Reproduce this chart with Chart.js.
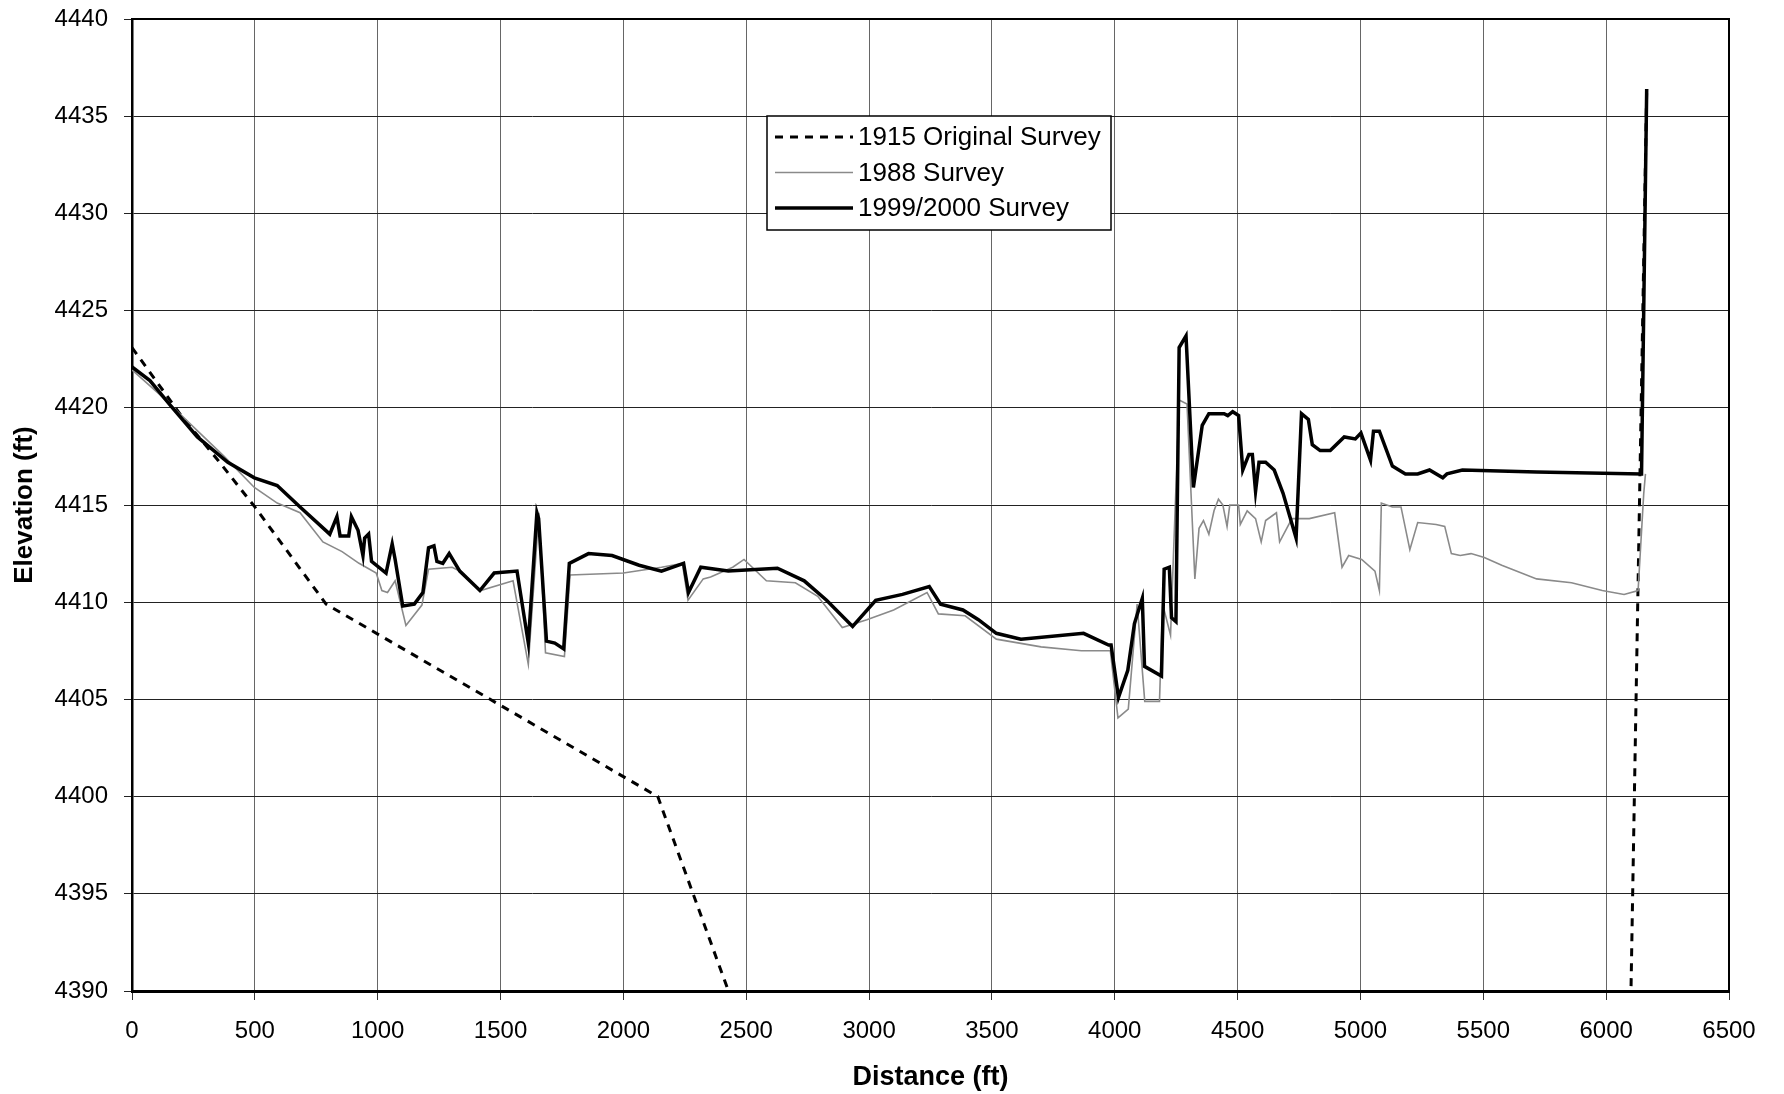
<!DOCTYPE html>
<html>
<head>
<meta charset="utf-8">
<script src="https://cdn.jsdelivr.net/npm/chart.js@4.4.1/dist/chart.umd.min.js"></script>
<style>
  html, body { margin: 0; padding: 0; background: #fff; }
  #wrap { width: 1784px; height: 1094px; }
</style>
</head>
<body>
<div id="wrap"><canvas id="chart-profile" width="1784" height="1094"></canvas></div>
<script>
var seriesNames = ["1915 Original Survey", "1988 Survey", "1999/2000 Survey"];

// 1915 original survey (the middle stretch runs below the plotted range)
var dist1915 = [0, 200, 350, 500, 790, 2140, 2600, 6090, 6165];
var elev1915 = [4423.1, 4419.6, 4417.3, 4414.9, 4409.9, 4400.0, 4384.0, 4382.0, 4436.4];

// 1988 survey
var dist1988 = [0, 111, 235, 375, 498, 591, 684, 777, 855, 924, 994, 1017, 1040, 1071, 1115, 1180,
  1207, 1303, 1334, 1419, 1551, 1613, 1656, 1683, 1760, 1783, 2000, 2155, 2240, 2263, 2325, 2355,
  2445, 2491, 2582, 2700, 2791, 2891, 2991, 3100, 3236, 3282, 3391, 3518, 3700, 3864, 3982, 4013,
  4055, 4091, 4122, 4182, 4195, 4227, 4262, 4294, 4326, 4343, 4361, 4383, 4404, 4422, 4440, 4457,
  4468, 4504, 4511, 4539, 4573, 4596, 4614, 4658, 4671, 4721, 4792, 4895, 4925, 4952, 5005, 5059,
  5077, 5085, 5130, 5165, 5201, 5233, 5308, 5343, 5370, 5406, 5450, 5504, 5575, 5717, 5859, 5984,
  6073, 6130, 6153, 6160];
var elev1988 = [4421.95, 4420.7, 4419.2, 4417.5, 4415.9, 4415.1, 4414.6, 4413.1, 4412.6, 4412.0,
  4411.5, 4410.6, 4410.5, 4411.1, 4408.8, 4409.85, 4411.7, 4411.8, 4411.6, 4410.6, 4411.1, 4406.8,
  4414.6, 4407.4, 4407.2, 4411.4, 4411.5, 4411.8, 4412.0, 4410.1, 4411.2, 4411.3, 4411.8, 4412.2,
  4411.1, 4411.0, 4410.3, 4408.7, 4409.1, 4409.6, 4410.5, 4409.4, 4409.3, 4408.1, 4407.7, 4407.5,
  4407.5, 4404.05, 4404.5, 4409.9, 4404.9, 4404.9, 4409.9, 4408.3, 4420.4, 4420.2, 4411.2, 4413.8,
  4414.2, 4413.5, 4414.7, 4415.3, 4415.0, 4413.9, 4415.0, 4415.0, 4414.0, 4414.7, 4414.3, 4413.1,
  4414.2, 4414.6, 4413.1, 4414.3, 4414.3, 4414.6, 4411.8, 4412.4, 4412.2, 4411.6, 4410.6, 4415.1,
  4414.9, 4414.9, 4412.7, 4414.1, 4414.0, 4413.9, 4412.5, 4412.4, 4412.5, 4412.3, 4411.9, 4411.2,
  4411.0, 4410.6, 4410.4, 4410.6, 4415.6, 4416.6];

// 1999/2000 survey
var dist2000 = [0, 73, 158, 266, 390, 498, 591, 684, 805, 834, 847, 882, 893, 920, 940, 947, 963,
  975, 1034, 1059, 1071, 1102, 1149, 1184, 1207, 1229, 1241, 1265, 1291, 1334, 1416, 1474, 1567,
  1613, 1648, 1655, 1687, 1721, 1757, 1780, 1858, 1954, 2064, 2155, 2245, 2265, 2315, 2427, 2627,
  2736, 2827, 2933, 3027, 3136, 3245, 3291, 3382, 3445, 3518, 3618, 3873, 3975, 3985, 4015, 4053,
  4080, 4112, 4121, 4190, 4201, 4222, 4231, 4249, 4262, 4290, 4320, 4356, 4383, 4445, 4460, 4480,
  4504, 4521, 4546, 4560, 4573, 4587, 4614, 4649, 4685, 4738, 4760, 4788, 4804, 4836, 4877, 4934,
  4979, 5002, 5041, 5053, 5077, 5130, 5183, 5233, 5281, 5335, 5352, 5415, 5717, 6144, 6165];
var elev2000 = [4422.1, 4421.4, 4420.1, 4418.5, 4417.2, 4416.4, 4416.0, 4414.9, 4413.5, 4414.4,
  4413.4, 4413.4, 4414.4, 4413.7, 4412.4, 4413.3, 4413.5, 4412.1, 4411.5, 4413.0, 4412.2, 4409.8,
  4409.9, 4410.5, 4412.8, 4412.9, 4412.1, 4412.0, 4412.5, 4411.6, 4410.6, 4411.5, 4411.6, 4407.9,
  4414.6, 4414.3, 4408.0, 4407.9, 4407.6, 4412.0, 4412.5, 4412.4, 4411.9, 4411.6, 4412.0, 4410.5,
  4411.8, 4411.6, 4411.75, 4411.1, 4410.1, 4408.75, 4410.1, 4410.4, 4410.8, 4409.9, 4409.6, 4409.1,
  4408.4, 4408.1, 4408.4, 4407.8, 4407.8, 4405.1, 4406.5, 4408.9, 4410.2, 4406.7, 4406.2, 4411.7,
  4411.8, 4409.2, 4409.0, 4423.1, 4423.7, 4415.9, 4419.1, 4419.7, 4419.7, 4419.6, 4419.8, 4419.6,
  4416.8, 4417.6, 4417.6, 4415.7, 4417.2, 4417.2, 4416.8, 4415.6, 4413.3, 4419.7, 4419.4, 4418.1,
  4417.8, 4417.8, 4418.5, 4418.4, 4418.7, 4417.3, 4418.8, 4418.8, 4417.0, 4416.6, 4416.6, 4416.8,
  4416.4, 4416.6, 4416.8, 4416.7, 4416.6, 4436.4];

var xTicks = [0, 500, 1000, 1500, 2000, 2500, 3000, 3500, 4000, 4500, 5000, 5500, 6000, 6500];
var yTicks = [4390, 4395, 4400, 4405, 4410, 4415, 4420, 4425, 4430, 4435, 4440];

function toPoints(xs, ys) {
  var pts = [];
  for (var i = 0; i < xs.length; i++) {
    pts.push({ x: xs[i], y: ys[i] });
  }
  return pts;
}

function plainNumber(value) {
  return String(value);
}

var fontFamily = "'Liberation Sans', Arial, sans-serif";

// legend drawn inside the plot, like the original
var boxLegend = {
  id: "boxLegend",
  afterDraw: function (chart) {
    var ctx = chart.ctx;
    var bx = 767, by = 116, bw = 344, bh = 114;
    ctx.save();
    ctx.fillStyle = "#fff";
    ctx.fillRect(bx, by, bw, bh);
    ctx.strokeStyle = "#000";
    ctx.lineWidth = 1.5;
    ctx.strokeRect(bx, by, bw, bh);
    ctx.font = "26px " + fontFamily;
    ctx.textBaseline = "middle";
    chart.data.datasets.forEach(function (ds, i) {
      var yy = by + 21 + i * 35.5;
      ctx.beginPath();
      ctx.setLineDash(ds.borderDash || []);
      ctx.strokeStyle = ds.borderColor;
      ctx.lineWidth = ds.borderWidth;
      ctx.moveTo(bx + 8, yy);
      ctx.lineTo(bx + 86, yy);
      ctx.stroke();
      ctx.setLineDash([]);
      ctx.fillStyle = "#000";
      ctx.fillText(ds.label, bx + 91, yy + 1);
    });
    ctx.restore();
  },
};

// top and right edges of the plot frame
var plotFrame = {
  id: "plotFrame",
  afterDraw: function (chart) {
    var a = chart.chartArea;
    var ctx = chart.ctx;
    ctx.save();
    ctx.strokeStyle = "#000";
    ctx.lineWidth = 2;
    ctx.beginPath();
    ctx.moveTo(a.left, a.top);
    ctx.lineTo(a.right, a.top);
    ctx.lineTo(a.right, a.bottom);
    ctx.stroke();
    ctx.restore();
  },
};

var ctx = document.getElementById("chart-profile").getContext("2d");

var chartInstance = new Chart(ctx, {
  type: "line",
  data: {
    datasets: [
      {
        label: seriesNames[0],
        data: toPoints(dist1915, elev1915),
        borderColor: "#000",
        borderWidth: 3,
        borderDash: [8, 7],
        pointRadius: 0,
        tension: 0,
        fill: false,
        order: 3,
      },
      {
        label: seriesNames[1],
        data: toPoints(dist1988, elev1988),
        borderColor: "#8a8a8a",
        borderWidth: 1.6,
        pointRadius: 0,
        tension: 0,
        fill: false,
        order: 2,
      },
      {
        label: seriesNames[2],
        data: toPoints(dist2000, elev2000),
        borderColor: "#000",
        borderWidth: 3.5,
        pointRadius: 0,
        tension: 0,
        fill: false,
        order: 1,
      },
    ],
  },
  options: {
    responsive: false,
    animation: false,
    layout: {
      padding: { left: 0, right: 55, top: 0, bottom: 0 },
    },
    plugins: {
      legend: { display: false },
      title: { display: false },
      tooltip: { enabled: false },
    },
    scales: {
      x: {
        type: "linear",
        min: 0,
        max: 6500,
        afterFit: function (scale) {
          scale.height = 103;
        },
        afterBuildTicks: function (scale) {
          scale.ticks = xTicks.map(function (v) { return { value: v }; });
        },
        grid: {
          color: "#666",
          lineWidth: 1,
          tickLength: 9,
          tickColor: "#333",
        },
        border: { display: true, color: "#000", width: 3 },
        ticks: {
          padding: 17,
          maxRotation: 0,
          autoSkip: false,
          color: "#000",
          callback: plainNumber,
          font: { size: 24, family: fontFamily },
        },
        title: {
          display: true,
          text: "Distance (ft)",
          color: "#000",
          padding: { top: 5, bottom: 0 },
          font: { size: 27, weight: "bold", family: fontFamily },
        },
      },
      y: {
        type: "linear",
        min: 4390,
        max: 4440,
        afterFit: function (scale) {
          scale.width = 132;
          scale.paddingTop = 19;
          scale.paddingBottom = 0;
        },
        afterBuildTicks: function (scale) {
          scale.ticks = yTicks.map(function (v) { return { value: v }; });
        },
        grid: {
          color: "#222",
          lineWidth: 1,
          tickLength: 8,
          tickColor: "#222",
        },
        border: { display: true, color: "#000", width: 2.5 },
        ticks: {
          padding: 16,
          autoSkip: false,
          color: "#000",
          callback: plainNumber,
          font: { size: 24, family: fontFamily },
        },
        title: {
          display: true,
          text: "Elevation (ft)",
          color: "#000",
          padding: { top: 9, bottom: 0 },
          font: { size: 26, weight: "bold", family: fontFamily },
        },
      },
    },
  },
  plugins: [boxLegend, plotFrame],
});
</script>
</body>
</html>
